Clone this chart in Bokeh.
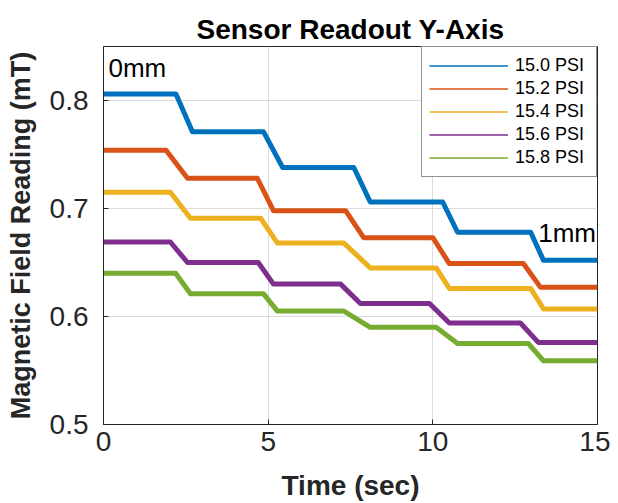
from bokeh.plotting import figure
from bokeh.models import Range1d, FixedTicker, Legend, LegendItem, Label
from bokeh.embed import file_html
from bokeh.resources import INLINE

# ---- data (step levels and ramp times) ----
series_names = ["15.0 PSI", "15.2 PSI", "15.4 PSI", "15.6 PSI", "15.8 PSI"]
series_colors = ["#0072BD", "#D95319", "#EDB120", "#7E2F8E", "#77AC30"]

levels_150 = [0.806, 0.771, 0.738, 0.706, 0.678, 0.652]
ramp_start_150 = [2.20, 4.86, 7.60, 10.30, 12.97]
ramp_end_150 = [2.70, 5.44, 8.10, 10.75, 13.36]

levels_152 = [0.754, 0.728, 0.698, 0.673, 0.649, 0.627]
ramp_start_152 = [1.90, 4.67, 7.35, 10.00, 12.75]
ramp_end_152 = [2.55, 5.16, 7.90, 10.50, 13.27]

levels_154 = [0.715, 0.691, 0.668, 0.645, 0.626, 0.607]
ramp_start_154 = [2.03, 4.77, 7.30, 10.10, 12.97]
ramp_end_154 = [2.64, 5.28, 8.10, 10.50, 13.36]

levels_156 = [0.669, 0.650, 0.630, 0.612, 0.594, 0.576]
ramp_start_156 = [2.03, 4.70, 7.20, 9.90, 12.66]
ramp_end_156 = [2.55, 5.16, 7.80, 10.50, 13.20]

levels_158 = [0.640, 0.621, 0.605, 0.590, 0.575, 0.559]
ramp_start_158 = [2.19, 4.86, 7.30, 10.10, 12.90]
ramp_end_158 = [2.64, 5.28, 8.10, 10.75, 13.36]

t_start, t_end = 0.0, 15.0
x_ticks = [0, 5, 10, 15]
y_ticks = [0.5, 0.6, 0.7, 0.8]

all_series = [
    (levels_150, ramp_start_150, ramp_end_150),
    (levels_152, ramp_start_152, ramp_end_152),
    (levels_154, ramp_start_154, ramp_end_154),
    (levels_156, ramp_start_156, ramp_end_156),
    (levels_158, ramp_start_158, ramp_end_158),
]


def build(levels, starts, ends):
    xs = [t_start]
    ys = [levels[0]]
    for i in range(len(starts)):
        xs += [starts[i], ends[i]]
        ys += [levels[i], levels[i + 1]]
    xs.append(t_end)
    ys.append(levels[-1])
    return xs, ys


FONT = "Liberation Sans"
TXT = "#262626"

p = figure(width=610, height=503, output_backend="svg", toolbar_location=None,
           x_range=Range1d(0, 15), y_range=Range1d(0.5, 0.85),
           min_border_left=103, min_border_right=13, min_border_top=46,
           min_border_bottom=79)

p.title.text = "Sensor Readout Y-Axis"
p.title.align = "center"
p.title.text_font = FONT
p.title.text_font_size = "28px"
p.title.text_font_style = "bold"
p.title.text_color = "#000000"
p.title.standoff = 3

p.outline_line_color = TXT
p.outline_line_width = 1

for ax in (p.xaxis[0], p.yaxis[0]):
    ax.major_label_text_font = FONT
    ax.major_label_text_font_size = "28px"
    ax.major_label_text_color = TXT
    ax.axis_label_text_font = FONT
    ax.axis_label_text_font_style = "bold"
    ax.axis_label_text_color = TXT
    ax.major_tick_in = 5
    ax.major_tick_out = 0
    ax.minor_tick_in = 0
    ax.minor_tick_out = 0
    ax.axis_line_color = TXT
    ax.major_tick_line_color = TXT

p.xaxis.axis_label = "Time (sec)"
p.yaxis.axis_label = "Magnetic Field Reading (mT)"
p.xaxis.axis_label_text_font_size = "28px"
p.yaxis.axis_label_text_font_size = "27px"
p.xaxis.ticker = FixedTicker(ticks=x_ticks)
p.yaxis.ticker = FixedTicker(ticks=y_ticks)
p.xaxis.major_label_standoff = 7
p.yaxis.major_label_standoff = 15
p.xaxis.axis_label_standoff = 16
p.yaxis.axis_label_standoff = 11

p.xgrid.ticker = FixedTicker(ticks=x_ticks)
p.ygrid.ticker = FixedTicker(ticks=y_ticks)
p.grid.grid_line_color = "#dcdcdc"
p.grid.grid_line_width = 1

items = []
for (lv, st, en), name, col in zip(all_series, series_names, series_colors):
    xs, ys = build(lv, st, en)
    p.line(xs, ys, line_color=col, line_width=5, line_join="round")
    # thin sample line for the legend key (a single point draws nothing)
    key = p.line(xs[:1], ys[:1], line_color=col, line_width=1.5)
    items.append(LegendItem(label=name, renderers=[key]))

legend = Legend(items=items, location="top_right")
legend.label_text_font = FONT
legend.label_text_font_size = "18px"
legend.label_text_color = "#000000"
legend.border_line_color = TXT
legend.border_line_width = 1
legend.background_fill_color = "white"
legend.background_fill_alpha = 1
legend.margin = 0
legend.padding = 7
legend.spacing = 0
legend.glyph_width = 79
legend.glyph_height = 23
legend.label_height = 23
legend.label_width = 74
legend.label_standoff = 7
p.add_layout(legend)

p.add_layout(Label(x=0.15, y=0.816, text="0mm", text_font=FONT,
                   text_font_size="26px", text_color="#000000"))
p.add_layout(Label(x=13.2, y=0.663, text="1mm", text_font=FONT,
                   text_font_size="26px", text_color="#000000"))

open("out.html", "w").write(file_html(p, INLINE))
